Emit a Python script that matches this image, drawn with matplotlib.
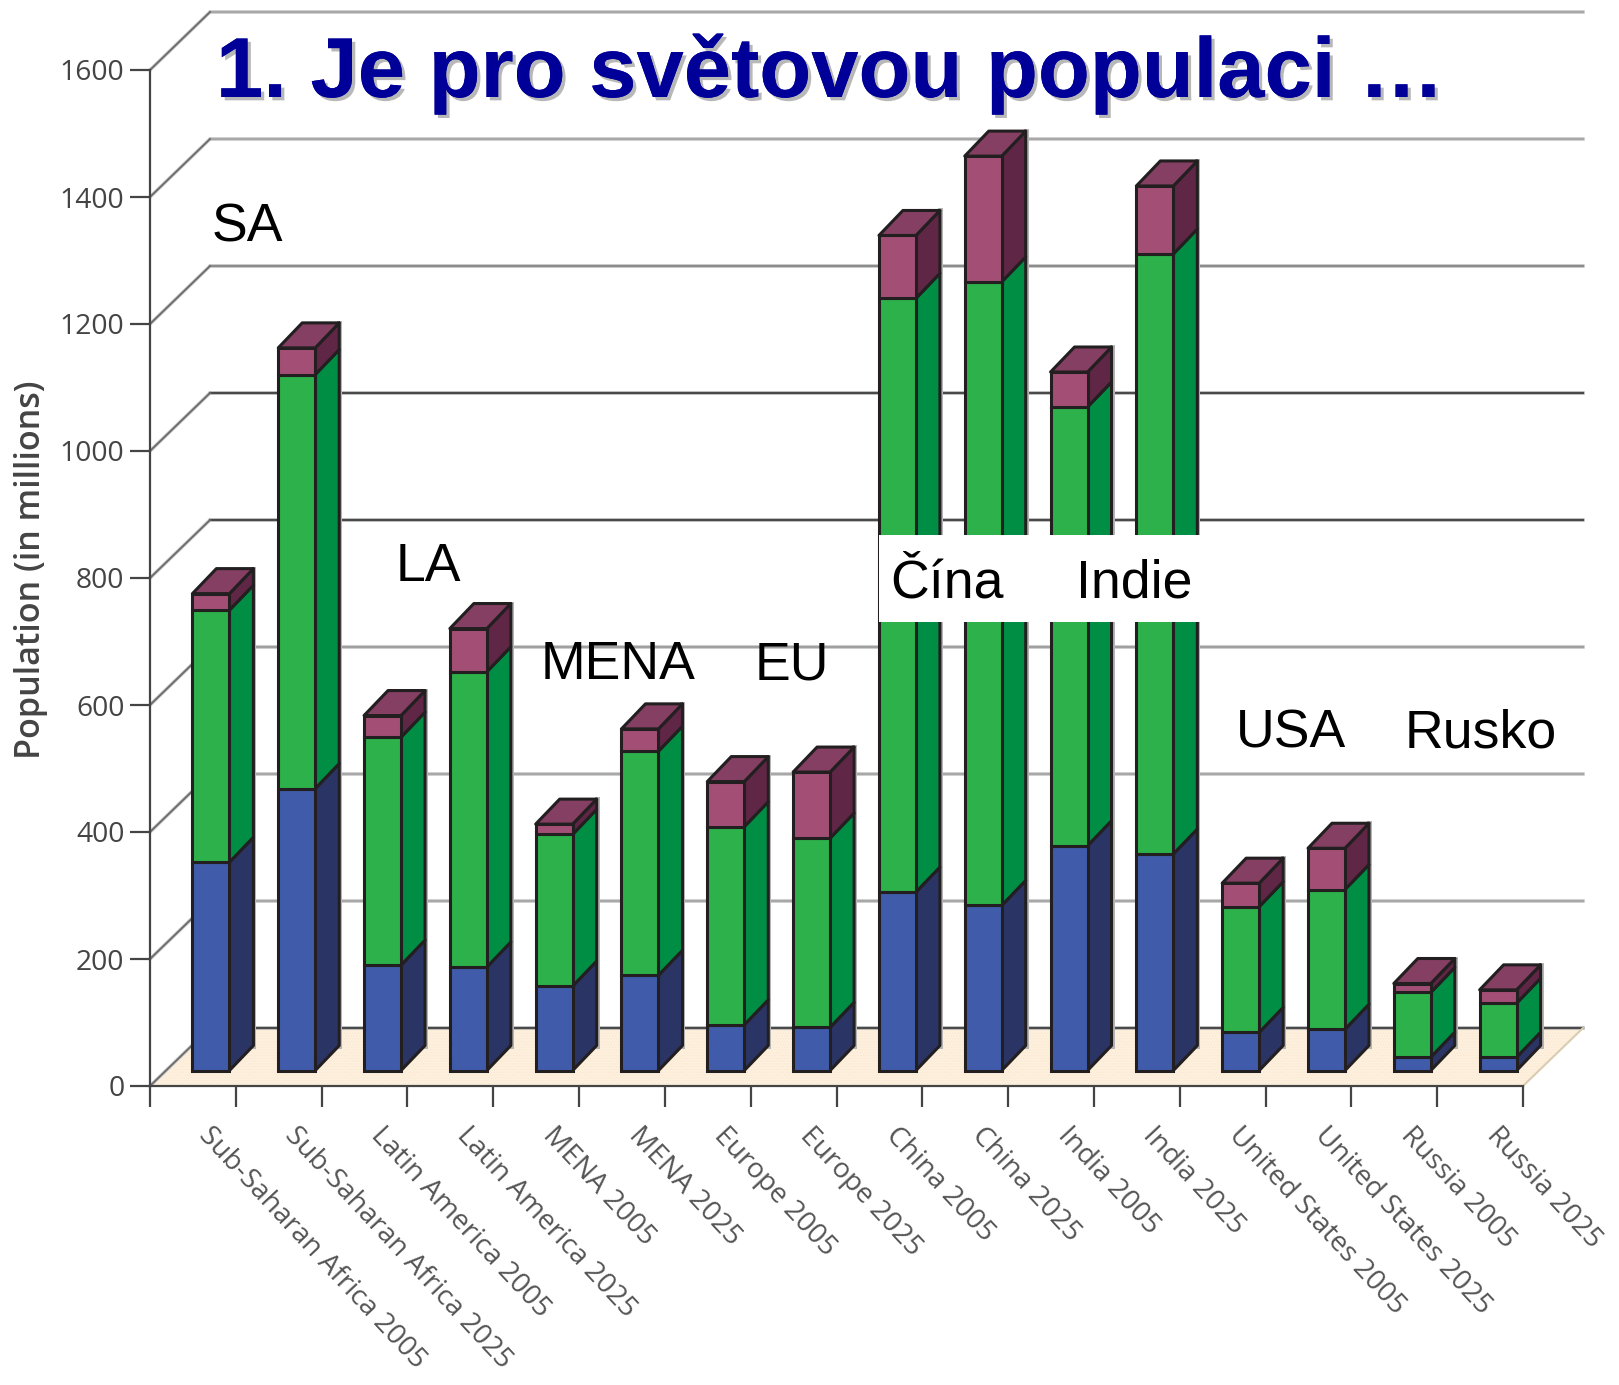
#!/usr/bin/env python3
import matplotlib
matplotlib.use("Agg")
import matplotlib.pyplot as plt
import matplotlib.patheffects as pe
from matplotlib.patches import Polygon, Rectangle
from matplotlib.transforms import ScaledTranslation

W, H = 1619, 1385

CATEGORIES = ["Sub-Saharan Africa 2005", "Sub-Saharan Africa 2025",
              "Latin America 2005", "Latin America 2025",
              "MENA 2005", "MENA 2025", "Europe 2005", "Europe 2025",
              "China 2005", "China 2025", "India 2005", "India 2025",
              "United States 2005", "United States 2025",
              "Russia 2005", "Russia 2025"]
# stacked segments, millions
SEG_BLUE = [328, 444, 166, 163, 133, 150, 72, 68, 281, 260, 354, 341, 60, 65, 21, 21]
SEG_GREEN = [397, 652, 359, 465, 239, 353, 312, 298, 935, 982, 691, 945, 198, 220, 102, 85]
SEG_PURPLE = [26, 42, 34, 68, 16, 35, 71, 104, 99, 198, 55, 107, 37, 65, 14, 21]
Y_TICKS = [0, 200, 400, 600, 800, 1000, 1200, 1400, 1600]
GRID_COLORS = {0: "#4a4a4a", 200: "#a8a8a8", 400: "#a8a8a8", 600: "#a0a0a0", 800: "#4a4a4a",
               1000: "#4a4a4a", 1200: "#8c8c8c", 1400: "#a8a8a8", 1600: "#a8a8a8"}

TITLE = "1. Je pro světovou populaci …"
REGIONS = [("SA", 212, 241), ("LA", 396, 581), ("MENA", 541, 679), ("EU", 755, 679),
           ("Čína", 890, 598), ("Indie", 1076, 598), ("USA", 1236, 747), ("Rusko", 1405, 747)]

# (front face colour, side colour)
COLORS = [("#3f5ba9", "#2a3565"), ("#2db14b", "#008d44"), ("#a34f75", "#5f2645")]
TOP_COLOR = "#843f62"
EDGE = "#231f20"

# pixel scale of the data axes
PX_X = (1523 - 150) / 16
PX_Y = (1086 - 70) / 1600
WALL_DX, WALL_DY = 60 / PX_X, 58 / PX_Y
BAR_C = 0.71
BAR_W = 37 / PX_X
FRONT_DY = 15.5 / PX_Y
SIDE_DX, SIDE_DY = 24 / PX_X, 25 / PX_Y

plt.rcParams["font.family"] = "Open Sans"
plt.rcParams["hatch.linewidth"] = 0.6

fig = plt.figure(figsize=(W / 100, H / 100), dpi=100)
ax = fig.add_axes([0, 0, 1, 1])
ax.set_xlim(-150 / PX_X, (W - 150) / PX_X)
ax.set_ylim(-(H - 1086) / PX_Y, 1086 / PX_Y)
ax.patch.set_visible(False)

# walls and floor
ax.add_patch(Polygon([(0, 0), (16, 0), (16 + WALL_DX, WALL_DY), (WALL_DX, WALL_DY)],
                     facecolor="#fdf1dd", edgecolor="#fbe6d2", hatch="......", lw=0, zorder=1))
ax.plot([16, 16 + WALL_DX], [0, WALL_DY], color="#d9ccb0", lw=1.5, zorder=1.5)
for v in Y_TICKS:
    c = GRID_COLORS[v]
    ax.plot([0, WALL_DX, 16 + WALL_DX], [v, v + WALL_DY, v + WALL_DY],
            color="#d0d0d0", lw=2.6, zorder=1.2, solid_joinstyle="miter")
    ax.plot([WALL_DX, 16 + WALL_DX], [v + WALL_DY, v + WALL_DY], color=c, lw=1.7, zorder=1.4)
    ax.plot([0, WALL_DX], [v, v + WALL_DY], color="#6e6e6e", lw=1.4, zorder=1.4)

# stacked 3D bars
for i in range(16):
    x0 = i + BAR_C - BAR_W / 2
    x1 = x0 + BAR_W
    base = FRONT_DY
    total = SEG_BLUE[i] + SEG_GREEN[i] + SEG_PURPLE[i]
    # soft grey fringe on the far edge
    ax.plot([x1 + SIDE_DX] * 2, [base + SIDE_DY, base + total + SIDE_DY],
            color="#b4b4b4", lw=3.6, zorder=2.5)
    for seg, (front, side) in zip((SEG_BLUE, SEG_GREEN, SEG_PURPLE), COLORS):
        top = base + seg[i]
        ax.add_patch(Polygon([(x1, base), (x1 + SIDE_DX, base + SIDE_DY),
                              (x1 + SIDE_DX, top + SIDE_DY), (x1, top)],
                             facecolor=side, edgecolor=EDGE, lw=2.2, zorder=3,
                             joinstyle="round"))
        ax.add_patch(Rectangle((x0, base), BAR_W, seg[i], facecolor=front,
                               edgecolor=EDGE, lw=2.2, zorder=3.1))
        base = top
    ax.add_patch(Polygon([(x0, base), (x1, base), (x1 + SIDE_DX, base + SIDE_DY),
                          (x0 + SIDE_DX, base + SIDE_DY)],
                         facecolor=TOP_COLOR, edgecolor=EDGE, lw=2.2, zorder=3.2,
                         joinstyle="round"))

# white strip behind the China / India labels
ax.add_patch(Rectangle((8.5, (1086 - 622) / PX_Y), 327 / PX_X, 87 / PX_Y,
                       facecolor="white", edgecolor="none", zorder=4))

# axes
for s in ("top", "right"):
    ax.spines[s].set_visible(False)
ax.spines["left"].set_position(("data", 0))
ax.spines["bottom"].set_position(("data", 0))
ax.spines["left"].set_bounds(0, 1600)
ax.spines["bottom"].set_bounds(0, 16)
for s in ("left", "bottom"):
    ax.spines[s].set_color("#444444")
    ax.spines[s].set_linewidth(1.6)
    ax.spines[s].set_zorder(2)
ax.set_yticks(Y_TICKS)
ax.tick_params(axis="y", length=14.5, width=1.6, color="#444444", pad=4,
               labelsize=20.3, labelcolor="#444444")
ax.set_xticks(range(17), labels=[""] + CATEGORIES)
ax.tick_params(axis="x", length=15, width=1.6, color="#444444", pad=11,
               labelsize=20.2, labelcolor="#555555")
shift = ScaledTranslation(-22 / 100, 0, fig.dpi_scale_trans)
for lab in ax.get_xticklabels():
    lab.set_rotation(-47)
    lab.set_ha("left")
    lab.set_va("top")
    lab.set_rotation_mode("anchor")
    lab.set_transform(lab.get_transform() + shift)

ax.set_ylabel("Population (in millions)", fontsize=24.6, fontweight="semibold", color="#444444")
ax.yaxis.set_label_coords(48 / W, 1 - 570 / H)

# overlaid slide text
fig.text(216 / W, 1 - 97 / H, TITLE, fontsize=61.2, fontweight="bold", color="#000099",
         family="Liberation Sans", va="baseline", zorder=6,
         path_effects=[pe.withSimplePatchShadow(offset=(2.4, -2.4), shadow_rgbFace="#b8b8b8", alpha=1),
                       pe.Normal()])
for name, px, py in REGIONS:
    fig.text(px / W, 1 - py / H, name, fontsize=38.6, color="black",
             family="Liberation Sans", va="baseline", zorder=6)

fig.savefig("out.png", dpi=100)
plt.close(fig)
